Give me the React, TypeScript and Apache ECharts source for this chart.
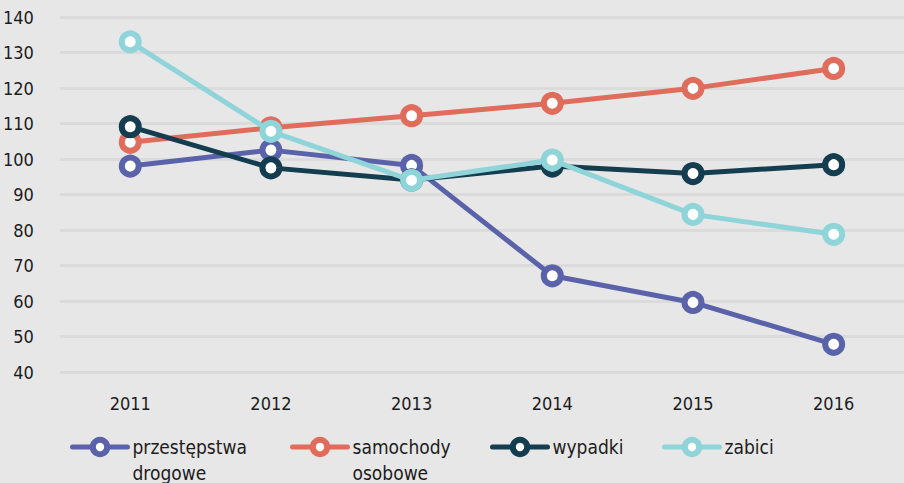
import React, { useEffect, useRef } from "react";
import * as echarts from "echarts";

const years = ["2011", "2012", "2013", "2014", "2015", "2016"];
const przestepstwa = [98.0, 102.5, 98.2, 67.1, 59.6, 47.8];
const samochody = [104.7, 108.8, 112.2, 115.7, 119.9, 125.5];
const wypadki = [109.1, 97.5, 94.1, 98.0, 95.9, 98.4];
const zabici = [133.0, 107.8, 94.0, 99.7, 84.4, 78.8];

const seriesNames = ["przestępstwa drogowe", "samochody osobowe", "wypadki", "zabici"];
const legendLabels = ["przestępstwa\ndrogowe", "samochody\nosobowe", "wypadki", "zabici"];
const colors = ["#5a63a9", "#e06c5b", "#143d50", "#8ed4d9"];
const yTicks = { min: 40, max: 140, interval: 10 };

const FONT = "'DejaVu Sans Condensed', 'DejaVu Sans', sans-serif";

export default function App() {
  const ref = useRef<HTMLDivElement>(null);
  useEffect(() => {
    if (!ref.current) return;
    const chart = echarts.init(ref.current, null, { renderer: "svg" });
    const values = [przestepstwa, samochody, wypadki, zabici];
    const legendLefts = [70, 290, 490, 662];
    const iconCenterY = 447;
    chart.setOption({
      animation: false,
      backgroundColor: "#e7e7e7",
      grid: { left: 59, width: 854, top: 17, bottom: 111 },
      xAxis: {
        type: "category",
        data: years,
        boundaryGap: true,
        axisLine: { show: false },
        axisTick: { show: false },
        axisLabel: { margin: 22, color: "#1c1c1c", fontSize: 18, fontFamily: FONT },
      },
      yAxis: {
        type: "value",
        min: yTicks.min,
        max: yTicks.max,
        interval: yTicks.interval,
        axisLine: { show: false },
        axisTick: { show: false },
        axisLabel: { margin: 26, color: "#1c1c1c", fontSize: 18, fontFamily: FONT },
        splitLine: { lineStyle: { color: "#dbdbdb", width: 3 } },
      },
      legend: seriesNames.map((n, i) => {
        const multi = legendLabels[i].includes("\n");
        return {
          data: [n],
          left: legendLefts[i],
          top: multi ? iconCenterY - 39 : iconCenterY - 13,
          padding: 0,
          itemWidth: 55,
          itemHeight: 18,
          itemGap: 5,
          formatter: () => (multi ? " \n" + legendLabels[i] : legendLabels[i]),
          lineStyle: { width: 5, cap: "round" },
          itemStyle: { borderWidth: 6, color: "#ffffff", borderColor: colors[i] },
          textStyle: {
            color: "#1c1c1c",
            fontSize: 19,
            fontFamily: FONT,
            lineHeight: 26,
          },
        };
      }),
      series: seriesNames.map((n, i) => ({
        name: n,
        type: "line",
        data: values[i],
        color: colors[i],
        symbol: "circle",
        symbolSize: 17,
        showSymbol: true,
        lineStyle: { width: 5, color: colors[i] },
        itemStyle: { color: "#ffffff", borderColor: colors[i], borderWidth: 6 },
        z: 2 + i,
      })),
    });
    return () => chart.dispose();
  }, []);
  return (
    <div
      ref={ref}
      style={{ position: "fixed", left: 0, top: 0, width: 904, height: 483 }}
    />
  );
}
